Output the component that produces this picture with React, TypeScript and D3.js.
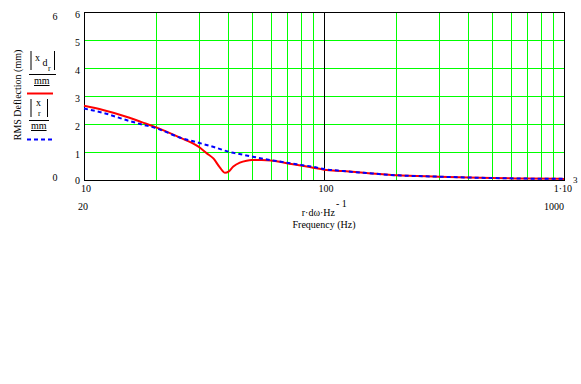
import React from "react";
import * as d3 from "d3";

const freqRed = [10, 12, 15, 17.5, 20, 25, 30, 32.5, 34.6, 36.8, 38.7, 40, 41.9, 44.6, 47.6, 50, 55, 60, 70, 80, 90, 100, 120, 150, 200, 300, 400, 500, 700, 1000];
const valRed = [2.65, 2.5, 2.26, 2.06, 1.88, 1.52, 1.19, 0.95, 0.77, 0.45, 0.26, 0.3, 0.48, 0.62, 0.69, 0.71, 0.71, 0.7, 0.6, 0.52, 0.44, 0.37, 0.32, 0.25, 0.17, 0.12, 0.09, 0.07, 0.05, 0.04];
const freqBlue = [10, 12, 15, 17.5, 20, 25, 30, 35, 40, 45, 50, 60, 70, 80, 90, 100, 120, 150, 200, 300, 400, 500, 700, 1000];
const valBlue = [2.55, 2.4, 2.14, 1.98, 1.85, 1.52, 1.33, 1.17, 1.01, 0.92, 0.84, 0.71, 0.62, 0.54, 0.47, 0.39, 0.32, 0.25, 0.17, 0.12, 0.09, 0.07, 0.05, 0.04];
const yTicks = [0, 1, 2, 3, 4, 5, 6];
const xGrid = [20, 30, 40, 50, 60, 70, 80, 90, 200, 300, 400, 500, 600, 700, 800, 900];

const L = 84, R = 564, T = 12, B = 180;
const FONT = "Liberation Serif, Times New Roman, serif";

export default function App() {
  const x = d3.scaleLog().domain([10, 1000]).range([L, R]);
  const y = d3.scaleLinear().domain([0, 6]).range([B, T]);
  const line = d3.line<[number, number]>().x(d => x(d[0])).y(d => y(d[1])).curve(d3.curveMonotoneX);
  const red = line(freqRed.map((f, i) => [f, valRed[i]] as [number, number])) || "";
  const blue = line(freqBlue.map((f, i) => [f, valBlue[i]] as [number, number])) || "";
  const px = (v: number) => Math.round(v) + 0.5;
  return (
    <svg width={581} height={384} style={{ position: "absolute", left: 0, top: 0, background: "#fff", fontFamily: FONT, fontSize: 10 }}>
      <rect x={0} y={0} width={581} height={384} fill="#fff" />
      <g shapeRendering="crispEdges">
        {yTicks.filter(v => v > 0 && v < 6).map(v => (
          <line key={"h" + v} x1={L} x2={R} y1={px(y(v))} y2={px(y(v))} stroke="#00ff00" strokeWidth={1} />
        ))}
        {xGrid.map(v => (
          <line key={"v" + v} x1={px(x(v))} x2={px(x(v))} y1={T} y2={B} stroke="#00ff00" strokeWidth={1} />
        ))}
        <line x1={px(x(100))} x2={px(x(100))} y1={T} y2={B} stroke="#000" strokeWidth={1} />
        <rect x={L + 0.5} y={T + 0.5} width={R - L} height={B - T} fill="none" stroke="#000" strokeWidth={1} />
      </g>
      <path d={red} fill="none" stroke="#ff0000" strokeWidth={2} />
      <path d={blue} fill="none" stroke="#0000ff" strokeWidth={2} strokeDasharray="4,3" />
      {yTicks.map(v => (
        <text key={"yt" + v} x={L - 4} y={y(v) + (v === 0 ? 4 : 6)} textAnchor="end">{v}</text>
      ))}
      <text x={x(10) + 2} y={192} textAnchor="middle">10</text>
      <text x={x(100) + 2} y={192} textAnchor="middle">100</text>
      <text x={572} y={192} textAnchor="end">1·10</text>
      <text x={573} y={183} fontSize={9}>3</text>
      <text x={78} y={210}>20</text>
      <text x={564} y={210} textAnchor="end">1000</text>
      <text x={335} y={216} textAnchor="end">r·dω·Hz</text>
      <text x={336} y={207}>- 1</text>
      <text x={324} y={228} textAnchor="middle">Frequency (Hz)</text>
      <text x={0} y={0} transform="translate(21,95) rotate(-90)" textAnchor="middle">RMS Deflection (mm)</text>
      <text x={55} y={20} textAnchor="middle">6</text>
      <text x={55} y={181} textAnchor="middle">0</text>
      {/* legend 1 */}
      <line x1={31} x2={31} y1={51} y2={70} stroke="#000" />
      <line x1={54.5} x2={54.5} y1={51} y2={70} stroke="#000" />
      <text x={35} y={61}>x</text>
      <text x={42.5} y={66}>d</text>
      <text x={48} y={71} fontSize={8}>r</text>
      <line x1={29} x2={56} y1={74.5} y2={74.5} stroke="#000" />
      <text x={34} y={84} textDecoration="underline">mm</text>
      <line x1={27} x2={53} y1={93.5} y2={93.5} stroke="#ff0000" strokeWidth={2} />
      {/* legend 2 */}
      <line x1={31} x2={31} y1={99} y2={117} stroke="#000" />
      <line x1={47.5} x2={47.5} y1={99} y2={117} stroke="#000" />
      <text x={36} y={106}>x</text>
      <text x={38} y={116} fontSize={8}>r</text>
      <line x1={29} x2={49} y1={120.5} y2={120.5} stroke="#000" />
      <text x={31} y={129} textDecoration="underline">mm</text>
      <line x1={27} x2={53} y1={139.5} y2={139.5} stroke="#0000ff" strokeWidth={2} strokeDasharray="4,3" />
    </svg>
  );
}
